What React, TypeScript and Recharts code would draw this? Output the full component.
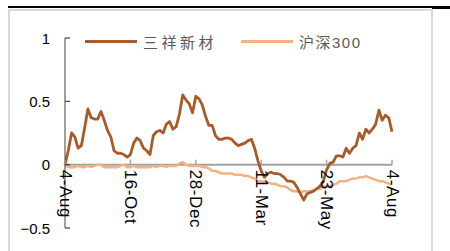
import { LineChart, Line, XAxis, YAxis, ReferenceLine } from "recharts";

// one point every ~2.5 trading days, 4-Aug to 4-Aug
const tickLabels = ["4-Aug", "16-Oct", "28-Dec", "11-Mar", "23-May", "4-Aug"];
const tickDays = [0, 20, 40, 60, 80, 100];
const seriesNames = ["三祥新材", "沪深300"];
const yTicks = [-0.5, 0, 0.5, 1];

const sanxiang = [
  0, 0.11, 0.25, 0.22, 0.13, 0.15, 0.29, 0.44, 0.37, 0.36,
  0.36, 0.42, 0.35, 0.27, 0.22, 0.11, 0.09, 0.09, 0.08, 0.06,
  0.08, 0.17, 0.21, 0.19, 0.13, 0.11, 0.08, 0.23, 0.26, 0.27,
  0.25, 0.32, 0.34, 0.28, 0.3, 0.4, 0.55, 0.51, 0.48, 0.41,
  0.54, 0.52, 0.47, 0.38, 0.31, 0.31, 0.23, 0.2, 0.2, 0.21,
  0.21, 0.2, 0.17, 0.15, 0.16, 0.17, 0.19, 0.2, 0.13, 0.03,
  -0.05, -0.1, -0.07, -0.06, -0.07, -0.07, -0.08, -0.1, -0.13, -0.13,
  -0.14, -0.18, -0.23, -0.28, -0.23, -0.22, -0.21, -0.19, -0.17, -0.13,
  -0.04, 0.01, 0.02, 0.07, 0.07, 0.06, 0.13, 0.09, 0.13, 0.15,
  0.25, 0.2, 0.28, 0.25, 0.28, 0.32, 0.43, 0.35, 0.39, 0.37,
  0.26,
];

const hs300 = [
  0, -0.02, -0.02, -0.02, -0.01, -0.02, -0.02, -0.01, -0.02, -0.01,
  0, 0, -0.02, -0.02, -0.02, -0.02, -0.02, -0.01, 0, -0.02,
  -0.02, -0.01, -0.02, -0.02, -0.02, -0.02, -0.02, -0.01, -0.02, -0.01,
  -0.01, -0.02, -0.01, -0.01, -0.01, 0.01, 0.02, 0, -0.01, -0.01,
  -0.01, -0.01, -0.02, -0.02, -0.03, -0.05, -0.05, -0.06, -0.07, -0.07,
  -0.07, -0.07, -0.08, -0.08, -0.08, -0.09, -0.09, -0.1, -0.11, -0.13,
  -0.13, -0.14, -0.14, -0.15, -0.15, -0.16, -0.17, -0.17, -0.18, -0.2,
  -0.21, -0.21, -0.22, -0.21, -0.21, -0.21, -0.2, -0.19, -0.19, -0.17,
  -0.17, -0.17, -0.16, -0.15, -0.13, -0.13, -0.13, -0.12, -0.11, -0.11,
  -0.1, -0.1, -0.09, -0.1, -0.11, -0.12, -0.13, -0.13, -0.14, -0.15,
  -0.16,
];

const colors = ["#A95A29", "#F4B183"];
const data = sanxiang.map((v, i) => ({ day: i, sx: v, hs: hs300[i] }));

const PLOT_H = 190;
const latin = "'Liberation Sans', Arial, sans-serif";
const cjk = "'Liberation Sans', 'Noto Sans CJK SC', sans-serif";

function XTick(props: any) {
  const { x, y, payload } = props;
  // x axis crosses at 0 → shift labels up from the plot bottom
  const y0 = y - PLOT_H / 3;
  const idx = tickDays.indexOf(payload.value);
  return (
    <g>
      <line x1={x} x2={x} y1={y0} y2={y0 - 5} stroke="#a6a6a6" strokeWidth={1.5} />
      <text x={x} y={y0 + 5} transform={`rotate(90, ${x}, ${y0 + 5})`} textAnchor="start"
        dominantBaseline="central" fontSize={17} letterSpacing={0.6} fontFamily={latin} fill="#000">
        {tickLabels[idx]}
      </text>
    </g>
  );
}

function YTick(props: any) {
  const { x, y, payload } = props;
  const v = payload.value;
  const label = v < 0 ? "−" + Math.abs(v) : String(v);
  return (
    <g>
      <line x1={x + 15} x2={x + 20} y1={y} y2={y} stroke="#404040" strokeWidth={1.2} />
      <text x={x} y={y} textAnchor="end" dominantBaseline="central" fontSize={15}
        fontFamily={latin} fill="#000">{label}</text>
    </g>
  );
}

export default function App() {
  return (
    <div style={{ position: "absolute", left: 0, top: 0, width: 450, height: 251, overflow: "hidden", background: "#fff" }}>
      <div style={{ position: "absolute", left: 8, top: 6, width: 424, height: 2, background: "#000" }} />
      <div style={{ position: "absolute", left: 432, top: 6, width: 18, height: 3, background: "#000" }} />
      <div style={{ position: "absolute", left: 8, top: 9, width: 425, height: 260, border: "2px solid #d9d9d9", boxSizing: "border-box" }} />

      <div style={{ position: "absolute", left: 0, top: 0 }}>
        <LineChart width={450} height={251} data={data} margin={{ top: 38, right: 58, bottom: 3, left: 0 }}>
          <XAxis dataKey="day" type="number" domain={[0, 100]} ticks={tickDays} height={20}
            axisLine={false} tickLine={false} tickSize={0} tickMargin={0} tick={XTick} interval={0} />
          <YAxis type="number" domain={[-0.5, 1]} ticks={yTicks} width={65}
            axisLine={{ stroke: "#404040", strokeWidth: 1 }} tickLine={false} tickSize={0} tickMargin={15}
            tick={YTick} interval={0} />
          <ReferenceLine y={0} stroke="#a0a0a0" strokeWidth={2} />
          <Line dataKey="hs" name={seriesNames[1]} stroke={colors[1]} strokeWidth={2.5} dot={false}
            isAnimationActive={false} strokeLinejoin="round" />
          <Line dataKey="sx" name={seriesNames[0]} stroke={colors[0]} strokeWidth={2.8} dot={false}
            isAnimationActive={false} strokeLinejoin="round" />
        </LineChart>
      </div>

      {seriesNames.map((n, i) => (
        <div key={n} style={{ position: "absolute", left: i === 0 ? 85 : 241, top: 31, height: 20, display: "flex", alignItems: "center" }}>
          <div style={{ width: 52, height: 3, background: colors[i] }} />
          <span style={{ marginLeft: 6, fontSize: 15, fontFamily: cjk, color: "#595959", letterSpacing: i === 0 ? 3.5 : 1.5, whiteSpace: "nowrap" }}>{n}</span>
        </div>
      ))}
    </div>
  );
}
